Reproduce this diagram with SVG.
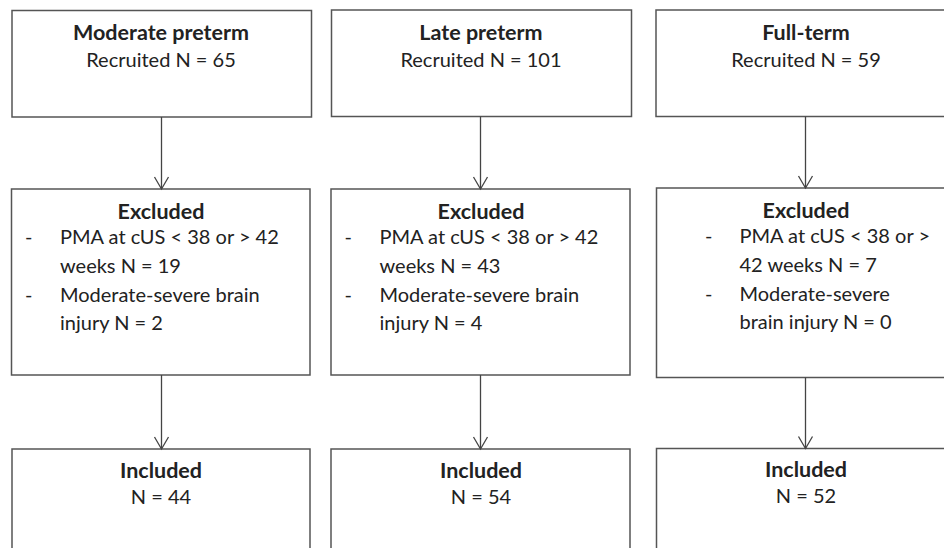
<svg xmlns="http://www.w3.org/2000/svg" width="944" height="548" viewBox="0 0 944 548">
<style>
.box{fill:#fff;stroke:#555;stroke-width:1.5}
text{font-family:Lato,"Open Sans",sans-serif;font-size:20px;fill:#222}
.b{font-weight:bold;font-size:21.5px}
.c{text-anchor:middle}
.conn line{stroke:#444;stroke-width:1.3}
.conn path{fill:none;stroke:#444;stroke-width:1.3}
</style>
<rect width="944" height="548" fill="#fff"/>
<g id="recruit-moderate">
<rect class="box" x="12" y="10.5" width="299.5" height="106.5"/>
<text class="b c" x="161" y="39.5">Moderate preterm</text>
<text class="c" x="161" y="67">Recruited N = 65</text>
</g>
<g id="recruit-late">
<rect class="box" x="331.5" y="10" width="300" height="106.5"/>
<text class="b c" x="481" y="39.5">Late preterm</text>
<text class="c" x="481" y="67">Recruited N = 101</text>
</g>
<g id="recruit-full">
<rect class="box" x="656" y="10" width="300" height="106.5"/>
<text class="b c" x="806" y="39.5">Full-term</text>
<text class="c" x="806" y="67">Recruited N = 59</text>
</g>
<g id="excluded-moderate">
<rect class="box" x="11.5" y="189" width="298.5" height="186"/>
<text class="b c" x="161" y="219">Excluded</text>
<text x="25" y="243.5">-</text>
<text x="60" y="243.5">PMA at cUS &lt; 38 or &gt; 42</text>
<text x="60" y="272.5">weeks N = 19</text>
<text x="25" y="301.5">-</text>
<text x="60" y="301.5">Moderate-severe brain</text>
<text x="60" y="329.5">injury N = 2</text>
</g>
<g id="excluded-late">
<rect class="box" x="331" y="189" width="299" height="186"/>
<text class="b c" x="481" y="219">Excluded</text>
<text x="344.5" y="243.5">-</text>
<text x="379.5" y="243.5">PMA at cUS &lt; 38 or &gt; 42</text>
<text x="379.5" y="272.5">weeks N = 43</text>
<text x="344.5" y="301.5">-</text>
<text x="379.5" y="301.5">Moderate-severe brain</text>
<text x="379.5" y="329.5">injury N = 4</text>
</g>
<g id="excluded-full">
<rect class="box" x="656.5" y="188" width="300" height="189.5"/>
<text class="b c" x="806" y="218">Excluded</text>
<text x="705" y="242.5">-</text>
<text x="739.5" y="242.5">PMA at cUS &lt; 38 or &gt;</text>
<text x="739.5" y="271.5">42 weeks N = 7</text>
<text x="705" y="300.5">-</text>
<text x="739.5" y="300.5">Moderate-severe</text>
<text x="739.5" y="328.5">brain injury N = 0</text>
</g>
<g id="included-moderate">
<rect class="box" x="12" y="449" width="298" height="120"/>
<text class="b c" x="161" y="477.5">Included</text>
<text class="c" x="161" y="503.5">N = 44</text>
</g>
<g id="included-late">
<rect class="box" x="331" y="449" width="299" height="120"/>
<text class="b c" x="481" y="477.5">Included</text>
<text class="c" x="481" y="503.5">N = 54</text>
</g>
<g id="included-full">
<rect class="box" x="656.5" y="448.5" width="300" height="120"/>
<text class="b c" x="806" y="477">Included</text>
<text class="c" x="806" y="503">N = 52</text>
</g>
<g id="connectors" class="conn">
<line x1="161.5" y1="117" x2="161.5" y2="189"/>
<path d="M154.5 177 L161.5 189 L168.5 177"/>
<line x1="480.5" y1="116.5" x2="480.5" y2="189"/>
<path d="M473.5 177 L480.5 189 L487.5 177"/>
<line x1="805.5" y1="116.5" x2="805.5" y2="188"/>
<path d="M798.5 176 L805.5 188 L812.5 176"/>
<line x1="161.5" y1="375" x2="161.5" y2="449"/>
<path d="M154.5 437 L161.5 449 L168.5 437"/>
<line x1="480.5" y1="375" x2="480.5" y2="449"/>
<path d="M473.5 437 L480.5 449 L487.5 437"/>
<line x1="805.5" y1="377.5" x2="805.5" y2="448.5"/>
<path d="M798.5 436.5 L805.5 448.5 L812.5 436.5"/>
</g>
</svg>
